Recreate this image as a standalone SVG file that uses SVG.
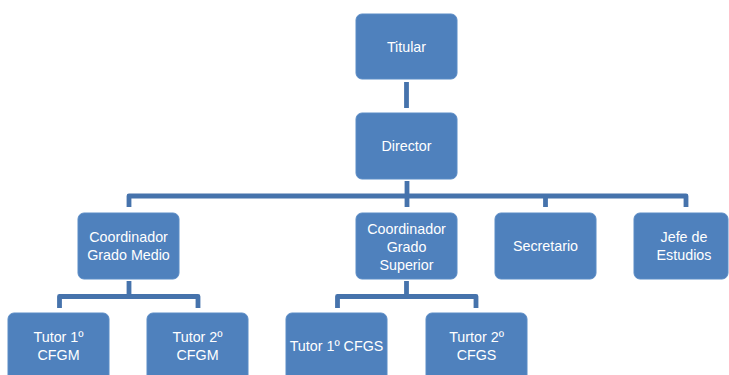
<svg xmlns="http://www.w3.org/2000/svg" width="729" height="375" viewBox="0 0 729 375">
<style>
.box{fill:#4F81BD;stroke:#5B8CC6;stroke-width:1}
.t{font-family:"Liberation Sans",Arial,sans-serif;font-size:14.3px;fill:#FFFFFF;text-anchor:middle}
.c{fill:none;stroke:#4673AC;stroke-width:4.8;stroke-linejoin:round}
</style>
<rect width="729" height="375" fill="#FFFFFF"/>
<g id="connectors">
<path class="c" d="M406.5,82 V108"/>
<path class="c" d="M407,181 V207"/>
<path class="c" d="M129,207 V196 H686 V207"/>
<path class="c" d="M545.5,196 V207"/>
<path class="c" d="M129,281 V296.5"/>
<path class="c" d="M59.5,308 V296.5 H198 V308"/>
<path class="c" d="M406.5,281 V296.5"/>
<path class="c" d="M337.5,308 V296.5 H476 V308"/>
</g>
<g id="titular"><rect class="box" x="356" y="14" width="101" height="65" rx="6"/><text class="t" x="406.5" y="52">Titular</text></g>
<g id="director"><rect class="box" x="356" y="113" width="101" height="66" rx="6"/><text class="t" x="406.5" y="151">Director</text></g>
<g id="coord-gm"><rect class="box" x="78" y="213" width="101" height="66" rx="6"/><text class="t" x="128.5" y="242">Coordinador</text><text class="t" x="128.5" y="260">Grado Medio</text></g>
<g id="coord-gs"><rect class="box" x="356" y="213" width="101" height="66" rx="6"/><text class="t" x="406.5" y="234">Coordinador</text><text class="t" x="406.5" y="252">Grado</text><text class="t" x="406.5" y="270">Superior</text></g>
<g id="secretario"><rect class="box" x="495" y="213" width="101" height="66" rx="6"/><text class="t" x="545.5" y="251">Secretario</text></g>
<g id="jefe"><rect class="box" x="634" y="213" width="94" height="66" rx="6"/><text class="t" x="684" y="242">Jefe de</text><text class="t" x="684" y="260">Estudios</text></g>
<g id="tutor1-cfgm"><rect class="box" x="8" y="313" width="101" height="70" rx="6"/><text class="t" x="58.5" y="342">Tutor 1º</text><text class="t" x="58.5" y="360">CFGM</text></g>
<g id="tutor2-cfgm"><rect class="box" x="147" y="313" width="101" height="70" rx="6"/><text class="t" x="197.5" y="342">Tutor 2º</text><text class="t" x="197.5" y="360">CFGM</text></g>
<g id="tutor1-cfgs"><rect class="box" x="286" y="313" width="101" height="70" rx="6"/><text class="t" x="336.5" y="351">Tutor 1º CFGS</text></g>
<g id="turtor2-cfgs"><rect class="box" x="426" y="313" width="101" height="70" rx="6"/><text class="t" x="476.5" y="342">Turtor 2º</text><text class="t" x="476.5" y="360">CFGS</text></g>
</svg>
